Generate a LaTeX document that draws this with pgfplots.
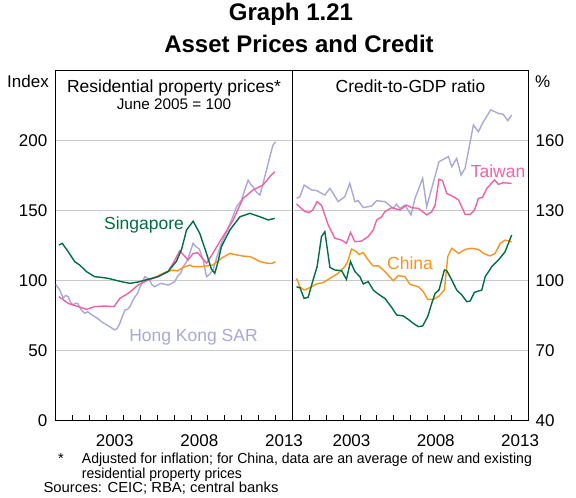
\documentclass[border=0pt]{standalone}
\usepackage{fontspec}
\setmainfont{Liberation Sans}
\usepackage{graphicx}
\usepackage{pgfplots}
\pgfplotsset{compat=1.18}
\definecolor{sgGreen}{RGB}{0,110,66}
\definecolor{twPink}{RGB}{238,98,166}
\definecolor{hkLav}{RGB}{168,168,218}
\definecolor{cnOrange}{RGB}{247,148,30}
\definecolor{gridGray}{RGB}{200,200,200}
\newcommand{\fs}[1]{\fontsize{#1}{#1}\selectfont}
\pgfplotsset{
  rbastyle/.style={
    scale only axis, height=350pt,
    xmin=2000, xmax=2014,
    axis line style={black, line width=0.9pt},
    tick align=inside, xtick pos=lower,
    xtick={2001,...,2013}, xticklabels={},
    major tick length=5pt,
    x tick style={black, line width=0.7pt},
    extra x ticks={2003.5,2008.5,2013.5},
    extra x tick labels={2003,2008,2013},
    extra x tick style={major tick length=0pt, grid=none},
    xticklabel style={anchor=base, inner sep=0pt, yshift=-26.7pt},
    tick label style={font=\fs{17}},
    ymajorgrids, major grid style={gridGray, line width=0.9pt},
    y tick style={draw=none},
    every axis plot/.append style={line width=1.4pt, mark=none},
  }
}
\begin{document}
\begin{tikzpicture}[x=1pt,y=1pt]
\path[use as bounding box] (0,0) rectangle (576,498);
\node[anchor=base, font=\fs{24}\bfseries] at (291,477.3) {Graph 1.21};
\node[anchor=base, font=\fs{24}\bfseries] at (299,445.3) {Asset Prices and Credit};
\node[anchor=base east, inner sep=0pt, font=\fs{17}] at (49,410.7) {Index};
\node[anchor=base west, inner sep=0pt, font=\fs{17}] at (535,410.7) {\%};

\begin{axis}[rbastyle, at={(55.5pt,78pt)}, anchor=south west, width=237pt,
  ymin=0, ymax=250,
  ytick={0,50,150,200}, yticklabels={0,50,150,200},
  extra y ticks={100}, extra y tick labels={100},
  extra y tick style={grid style={black, line width=0.9pt}},
  yticklabel style={anchor=base east, inner sep=0pt, xshift=-8pt, yshift=-6.5pt},
]
% Hong Kong SAR
\addplot[hkLav] coordinates {
(2000.0,97) (2000.25,92.9) (2000.45,87) (2000.6,89) (2000.75,88.1) (2000.9,84)
(2001.04,82.1) (2001.2,83.5) (2001.34,82.9) (2001.5,79) (2001.73,76.2) (2001.9,77.4)
(2002.1,75.5) (2002.32,73.8) (2002.5,72.5) (2002.72,70.2) (2002.95,68.5) (2003.2,66.7)
(2003.5,64.3) (2003.65,65.5) (2003.8,69) (2003.95,74) (2004.1,78.6) (2004.25,79)
(2004.4,81) (2004.55,85) (2004.7,88.1) (2004.85,90.5) (2005.0,95) (2005.1,97.6)
(2005.27,102.4) (2005.4,101.5) (2005.56,100) (2005.7,96.5) (2005.86,95.2) (2006.05,96.5)
(2006.25,97.6) (2006.45,97) (2006.65,96.4) (2006.85,97.5) (2007.04,98.8) (2007.2,102.4)
(2007.4,105) (2007.54,109.5) (2007.75,113) (2007.93,119) (2008.13,126.2) (2008.3,123.8)
(2008.5,122) (2008.72,114.3) (2008.92,102.4) (2009.1,104) (2009.3,107.1) (2009.55,117)
(2009.8,126.2) (2010.1,134) (2010.4,142.9) (2010.7,152.4) (2010.99,157.1) (2011.2,165)
(2011.38,171.4) (2011.55,168) (2011.67,166.7) (2011.85,163) (2012.07,160.7) (2012.2,166)
(2012.36,173.8) (2012.5,180) (2012.66,188.1) (2012.85,196.4) (2013.0,198.8)
};
% China
\addplot[cnOrange] coordinates {
(2005.25,99.5) (2005.5,100) (2005.97,102.4) (2006.3,104.5) (2006.56,105.9) (2006.95,107.1)
(2007.2,106.5) (2007.54,109) (2007.93,110.7) (2008.13,109.5) (2008.52,109.5) (2008.9,110)
(2009.3,110.7) (2009.8,115.5) (2010.3,119) (2010.7,117.9) (2011.08,117.1) (2011.5,116.7)
(2011.8,115) (2012.07,113.1) (2012.56,111.9) (2012.8,111.9) (2013.0,113.1)
};
% Taiwan
\addplot[twPink] coordinates {
(2000.2,88.1) (2000.75,83.3) (2001.34,81) (2001.83,79) (2002.32,81) (2002.9,81.4)
(2003.46,81) (2003.8,86.9) (2004.3,90.5) (2004.88,96.4) (2005.47,100) (2006.06,102.4)
(2006.65,106) (2007.0,113) (2007.34,120.9) (2007.83,114.3) (2008.13,119) (2008.4,119.5)
(2008.92,112) (2009.3,119) (2009.7,127.4) (2010.1,135) (2010.5,142.9) (2010.8,151)
(2011.08,158.3) (2011.67,164.3) (2012.26,167.9) (2012.66,173.8) (2012.95,177.4)
};
% Singapore
\addplot[sgGreen] coordinates {
(2000.2,125) (2000.4,126.2) (2000.75,120.2) (2001.14,113) (2001.43,110.7) (2001.83,106)
(2002.3,102.4) (2002.7,101.9) (2003.1,101.2) (2003.5,100) (2003.9,98.8) (2004.4,97.6)
(2004.9,98.6) (2005.47,100.5) (2006.06,102.4) (2006.65,106) (2007.15,113.5) (2007.45,122)
(2007.74,135.7) (2008.13,142) (2008.52,133.3) (2008.92,119) (2009.2,108) (2009.41,104.8)
(2009.6,113) (2009.8,123.8) (2010.3,135.7) (2010.9,145.2) (2011.48,147.6) (2012.07,145.2)
(2012.56,142.9) (2012.95,144)
};
\node[anchor=base, inner sep=0pt, font=\fs{17.5}, text=sgGreen] at (axis cs:2005.23,136.2) {Singapore};
\node[anchor=base, inner sep=0pt, font=\fs{17.5}, text=hkLav] at (axis cs:2008.15,55.9) {Hong Kong SAR};
\node[anchor=base, inner sep=0pt, font=\fs{17.5}] at (axis cs:2007,233.8) {Residential property prices*};
\node[anchor=base, inner sep=0pt, font=\fs{15.3}] at (axis cs:2007,222) {June 2005 = 100};
\end{axis}

\begin{axis}[rbastyle, at={(292.5pt,78pt)}, anchor=south west, width=236pt,
  ymin=40, ymax=190,
  ytick={40,70,100,130,160}, yticklabels={40,70,100,130,160},
  yticklabel pos=right,
  yticklabel style={anchor=base west, inner sep=0pt, xshift=7pt, yshift=-6.5pt},
]
% Hong Kong SAR
\addplot[hkLav] coordinates {
(2000.24,135) (2000.44,135.7) (2000.69,140.7) (2001.13,138.6) (2001.43,138.3) (2001.92,136.4)
(2002.22,139.3) (2002.71,133.6) (2003.1,135.7) (2003.4,141.4) (2003.7,133.6) (2003.9,134)
(2004.2,131) (2004.69,131.7) (2004.99,134) (2005.48,133.6) (2005.98,130.7) (2006.17,132.5)
(2006.37,130.7) (2006.67,132.1) (2007.03,127.9) (2007.27,135) (2007.72,143.6) (2007.96,131.4)
(2008.26,139.3) (2008.69,150.7) (2009.25,152.9) (2009.45,148.6) (2009.74,152.1) (2010.0,145)
(2010.24,147.9) (2010.73,166.4) (2011.03,163.6) (2011.33,167.9) (2011.76,172.9) (2012.22,171.4)
(2012.5,171) (2012.77,168.3) (2013.0,170.7)
};
% China
\addplot[cnOrange] coordinates {
(2000.24,100.7) (2000.44,97.1) (2000.69,95.7) (2001.03,96.7) (2001.43,98.3) (2001.82,98.9)
(2002.22,100.7) (2002.71,102.9) (2003.1,105.7) (2003.27,107.9) (2003.5,113.3) (2003.8,112.1)
(2003.94,111) (2004.2,111.7) (2004.49,108.6) (2004.79,106) (2005.1,106.1) (2005.48,103.6)
(2005.98,99.7) (2006.27,101.9) (2006.67,101.4) (2006.97,98.1) (2007.47,97.1) (2007.76,95)
(2008.02,91.7) (2008.36,91.7) (2008.69,93.1) (2009.01,95.7) (2009.21,110) (2009.45,113.6)
(2009.85,111.4) (2010.24,113.1) (2010.63,113.6) (2011.03,113.1) (2011.33,111.4) (2011.72,110.3)
(2012.02,111.4) (2012.32,115.7) (2012.61,117.1) (2013.0,116.4)
};
% Taiwan
\addplot[twPink] coordinates {
(2000.24,132.6) (2000.73,129.3) (2001.0,129) (2001.2,130) (2001.46,133.6) (2001.72,132)
(2002.12,123.6) (2002.51,117.9) (2002.91,117.1) (2003.2,115.7) (2003.44,120.4) (2003.7,116.4)
(2004.1,116.7) (2004.49,118.6) (2004.79,121.4) (2004.99,125.7) (2005.29,127.1) (2005.48,129.3)
(2005.88,131) (2006.37,130) (2006.77,132.1) (2007.07,131) (2007.47,130.7) (2007.96,127.9)
(2008.26,129.3) (2008.46,132.1) (2008.69,143.2) (2008.9,142.6) (2009.15,137.1) (2009.55,135.7)
(2009.85,134.3) (2010.24,128.1) (2010.54,128.1) (2010.8,130) (2011.03,135) (2011.27,135.4)
(2011.53,139.3) (2011.72,140.7) (2011.98,142.9) (2012.22,141) (2012.5,141.7) (2013.0,141.4)
};
% Singapore
\addplot[sgGreen] coordinates {
(2000.24,97.1) (2000.44,96.7) (2000.69,92.1) (2000.93,92.6) (2001.22,100) (2001.46,105.7)
(2001.72,118.6) (2001.92,120.7) (2002.22,105.4) (2002.51,104.3) (2002.91,104) (2003.2,100.3)
(2003.44,107.9) (2003.7,103.6) (2004.0,101.4) (2004.2,98.3) (2004.49,99.3) (2004.79,95.7)
(2005.1,93.9) (2005.48,92.1) (2005.88,88.3) (2006.18,85) (2006.57,84.6) (2006.87,83.1)
(2007.17,81.4) (2007.47,80) (2007.72,80.3) (2008.02,84.3) (2008.26,90) (2008.46,94.3)
(2008.69,95.7) (2009.01,104.3) (2009.15,104) (2009.45,100) (2009.74,95.7) (2010.04,93.6)
(2010.34,90.7) (2010.54,91) (2010.79,94.7) (2011.23,95.7) (2011.43,101.4) (2011.82,105.7)
(2012.22,108.6) (2012.61,112.1) (2012.81,115.7) (2013.0,119.3)
};
\node[anchor=base, inner sep=0pt, font=\fs{17.5}, text=twPink] at (axis cs:2012.19,144) {Taiwan};
\node[anchor=base, inner sep=0pt, font=\fs{17.5}, text=cnOrange] at (axis cs:2006.97,104.3) {China};
\node[anchor=base, inner sep=0pt, font=\fs{17.5}] at (axis cs:2007,180.5) {Credit-to-GDP ratio};
\end{axis}

\node[anchor=base west, inner sep=0pt, font=\fs{14.5}] at (58,34.7) {*};
\node[anchor=base west, inner sep=0pt, font=\fs{14.5}] at (81.7,34.7) {\resizebox{450pt}{\height}{Adjusted for inflation; for China, data are an average of new and existing}};
\node[anchor=base west, inner sep=0pt, font=\fs{14.5}] at (81.7,19.7) {\resizebox{160pt}{\height}{residential property prices}};
\node[anchor=base west, inner sep=0pt, font=\fs{14.5}] at (43.3,5.3) {\resizebox{235pt}{\height}{Sources: CEIC; RBA; central banks}};
\end{tikzpicture}
\end{document}
